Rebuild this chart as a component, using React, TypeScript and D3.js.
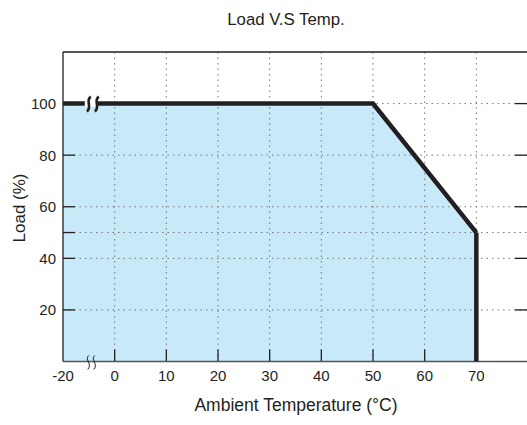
import { scaleLinear, line, area } from "d3";

// derating curve: temperature (°C) vs load (%)
const curveTemp = [-10, 50, 70];
const curveLoad = [100, 100, 50];
const xTicks = [-10, 0, 10, 20, 30, 40, 50, 60, 70];
const xTickLabels = ["-20", "0", "10", "20", "30", "40", "50", "60", "70"];
const yTicks = [20, 40, 60, 80, 100];
const yGrid = [20, 40, 50, 60, 80, 100];
const xGrid = [0, 10, 20, 30, 40, 50, 60, 70];

const W = 527;
const H = 425;
const left = 63;
const top = 52;
const bottom = 361.5;
const right = 528;

const font = "Liberation Sans, Arial, Helvetica, sans-serif";

export default function App() {
  const x = scaleLinear().domain([-10, 80]).range([left, right]);
  const y = scaleLinear().domain([0, 120]).range([bottom, top]);

  const pts: [number, number][] = curveTemp.map((t, i) => [t, curveLoad[i]]);
  const fillPts: [number, number][] = [...pts, [70, 0]];

  const areaGen = area<[number, number]>()
    .x((d) => x(d[0]))
    .y0(y(0))
    .y1((d) => y(d[1]));
  const lineGen = line<[number, number]>()
    .x((d) => x(d[0]))
    .y((d) => y(d[1]));

  const bx = x(-5);
  const topBreak = (dx: number) => {
    const cx = bx + dx;
    const cy = y(100);
    return `M${cx + 2},${cy - 7} C${cx - 4},${cy - 3} ${cx + 4},${cy + 3} ${cx - 2},${cy + 8}`;
  };
  const botBreak = (dx: number) => {
    const cx = bx + dx;
    const cy = y(0);
    return `M${cx + 1},${cy - 6} C${cx - 4},${cy - 2} ${cx + 5},${cy + 2} ${cx},${cy + 8}`;
  };

  return (
    <svg
      width={W}
      height={H}
      style={{ position: "absolute", left: 0, top: 0 }}
      fontFamily={font}
    >
      <rect width={W} height={H} fill="#fff" />
      <path d={areaGen(fillPts) ?? ""} fill="#c7e9f8" />
      {/* grid */}
      {xGrid.map((v) => (
        <line
          key={"gx" + v}
          x1={x(v)}
          x2={x(v)}
          y1={top}
          y2={bottom}
          stroke="#777"
          strokeWidth={1}
          strokeDasharray="1.5,4"
        />
      ))}
      {yGrid.map((v) => (
        <line
          key={"gy" + v}
          x1={left}
          x2={right}
          y1={y(v)}
          y2={y(v)}
          stroke="#777"
          strokeWidth={1}
          strokeDasharray="1.5,4"
        />
      ))}
      {/* ticks */}
      {[20, 40, 50, 60, 80].map((v) => (
        <line key={"lt" + v} x1={left} x2={left + 12} y1={y(v)} y2={y(v)} stroke="#231f20" strokeWidth={1.3} />
      ))}
      {[20, 40, 60, 80, 100].map((v) => (
        <line key={"rt" + v} x1={W - 12} x2={W} y1={y(v)} y2={y(v)} stroke="#231f20" strokeWidth={1.3} />
      ))}
      {xGrid.slice(0, 7).map((v) => (
        <line key={"bt" + v} x1={x(v)} x2={x(v)} y1={bottom} y2={bottom - 12} stroke="#231f20" strokeWidth={1.3} />
      ))}
      {/* frame */}
      <line x1={left} x2={right} y1={top} y2={top} stroke="#231f20" strokeWidth={1.3} />
      <line x1={left} x2={left} y1={top} y2={bottom} stroke="#231f20" strokeWidth={1.3} />
      <line x1={left} x2={right} y1={bottom} y2={bottom} stroke="#555" strokeWidth={1.3} />
      {/* curve */}
      <path
        d={lineGen(pts) ?? ""}
        fill="none"
        stroke="#231f20"
        strokeWidth={4.5}
        strokeLinejoin="miter"
      />
      <line x1={x(70)} x2={x(70)} y1={y(50)} y2={bottom} stroke="#231f20" strokeWidth={4.5} />
      {/* axis breaks */}
      <rect x={bx - 4} y={y(100) - 3} width={13} height={6} fill="#fff" />
      <path d={topBreak(0)} fill="none" stroke="#231f20" strokeWidth={2.6} />
      <path d={topBreak(8)} fill="none" stroke="#231f20" strokeWidth={2.6} />
      <path d={botBreak(-1)} fill="none" stroke="#231f20" strokeWidth={1} />
      <path d={botBreak(5)} fill="none" stroke="#231f20" strokeWidth={1} />
      {/* labels */}
      {yTicks.map((v) => (
        <text key={"yl" + v} x={56} y={y(v) + 5.5} textAnchor="end" fontSize={15} fill="#231f20">
          {v}
        </text>
      ))}
      {xTicks.map((v, i) => (
        <text key={"xl" + v} x={x(v)} y={381} textAnchor="middle" fontSize={15} fill="#231f20">
          {xTickLabels[i]}
        </text>
      ))}
      <text x={286} y={25} textAnchor="middle" fontSize={16.8} fill="#231f20">
        Load V.S Temp.
      </text>
      <text x={296} y={411} textAnchor="middle" fontSize={17.5} fill="#231f20">
        Ambient Temperature (°C)
      </text>
      <text
        transform={`translate(25,${208}) rotate(-90)`}
        textAnchor="middle"
        fontSize={17}
        fill="#231f20"
      >
        Load (%)
      </text>
    </svg>
  );
}
